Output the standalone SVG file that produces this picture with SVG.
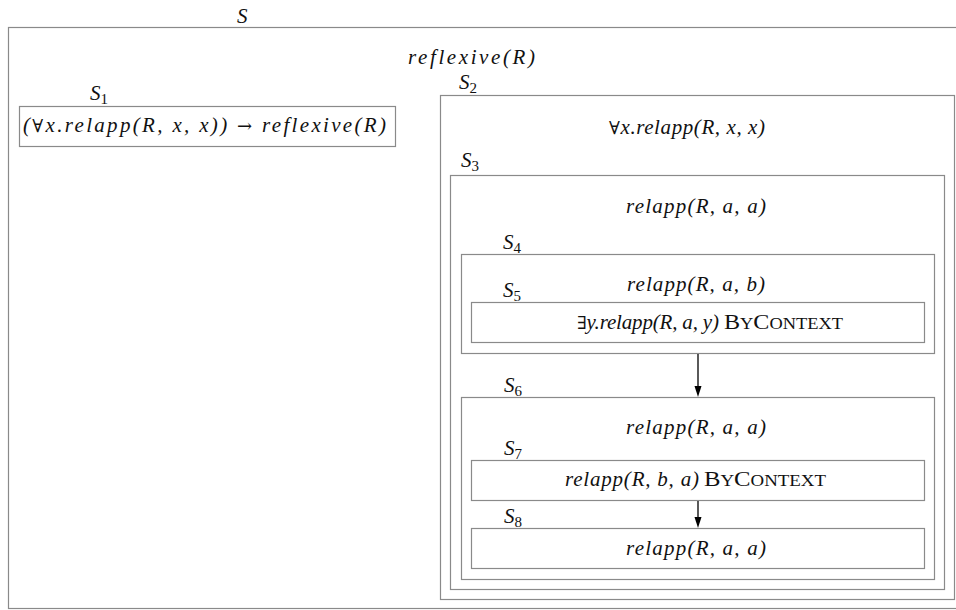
<svg xmlns="http://www.w3.org/2000/svg" width="956" height="610" viewBox="0 0 956 610">
  <defs>
    <style>
      .box { fill: none; stroke: #8a8a8a; stroke-width: 1.2; }
      .m { font-family: "Liberation Serif", "Times New Roman", serif; font-style: italic; font-size: 21px; fill: #111; }
      .lbl { font-family: "Liberation Serif", "Times New Roman", serif; font-style: italic; font-size: 21px; fill: #111; }
      .sub { font-style: normal; font-size: 15px; }
      .sym { font-family: "DejaVu Serif", serif; font-style: normal; font-size: 18px; }
      .rm { font-family: "Liberation Serif", "Times New Roman", serif; font-style: normal; font-size: 21px; fill: #111; }
      .sc { font-size: 16px; }
      .edge { stroke: #000; stroke-width: 1.3; fill: none; }
      .head { fill: #000; }
    </style>
  </defs>

  <rect width="956" height="610" fill="#fff"/>

  <!-- outer scope S -->
  <g id="S">
    <text class="lbl" x="237" y="23">S</text>
    <rect class="box" x="8.5" y="27.5" width="960" height="581"/>
    <text class="m" x="408" y="64" textLength="127" lengthAdjust="spacing">reflexive(R)</text>
  </g>

  <g id="S1">
    <text class="lbl" x="90" y="100">S<tspan class="sub" dy="4">1</tspan></text>
    <rect class="box" x="19.5" y="106.5" width="376" height="40"/>
    <text class="m" x="23" y="132" textLength="363" lengthAdjust="spacing">(<tspan class="sym">∀</tspan>x.relapp(R, x, x)) <tspan class="sym">→</tspan> reflexive(R)</text>
  </g>

  <g id="S2">
    <text class="lbl" x="459" y="89">S<tspan class="sub" dy="4">2</tspan></text>
    <rect class="box" x="440.5" y="95.5" width="514" height="504"/>
    <text class="m" x="609" y="134" textLength="156" lengthAdjust="spacing"><tspan class="sym">∀</tspan>x.relapp(R, x, x)</text>
  </g>

  <g id="S3">
    <text class="lbl" x="461" y="167">S<tspan class="sub" dy="4">3</tspan></text>
    <rect class="box" x="450.5" y="175.5" width="494" height="414"/>
    <text class="m" x="626" y="213" textLength="140" lengthAdjust="spacing">relapp(R, a, a)</text>
  </g>

  <g id="S4">
    <text class="lbl" x="503" y="249">S<tspan class="sub" dy="4">4</tspan></text>
    <rect class="box" x="461.5" y="254.5" width="473" height="99"/>
    <text class="m" x="627" y="291" textLength="138" lengthAdjust="spacing">relapp(R, a, b)</text>
  </g>

  <g id="S5">
    <text class="lbl" x="503" y="297">S<tspan class="sub" dy="4">5</tspan></text>
    <rect class="box" x="471.5" y="302.5" width="453" height="40"/>
    <text class="m" x="577" y="329" textLength="142" lengthAdjust="spacing"><tspan class="sym">∃</tspan>y.relapp(R, a, y)</text>
    <text class="rm" x="724" y="329" textLength="119" lengthAdjust="spacingAndGlyphs">B<tspan class="sc">Y</tspan>C<tspan class="sc">ONTEXT</tspan></text>
  </g>

  <g id="S6">
    <text class="lbl" x="504" y="392">S<tspan class="sub" dy="4">6</tspan></text>
    <rect class="box" x="461.5" y="397.5" width="473" height="182"/>
    <text class="m" x="626" y="434" textLength="140" lengthAdjust="spacing">relapp(R, a, a)</text>
  </g>

  <g id="S7">
    <text class="lbl" x="504" y="455">S<tspan class="sub" dy="4">7</tspan></text>
    <rect class="box" x="471.5" y="460.5" width="453" height="40"/>
    <text class="m" x="565" y="486" textLength="134" lengthAdjust="spacing">relapp(R, b, a)</text>
    <text class="rm" x="704" y="486" textLength="122" lengthAdjust="spacingAndGlyphs">B<tspan class="sc">Y</tspan>C<tspan class="sc">ONTEXT</tspan></text>
  </g>

  <g id="S8">
    <text class="lbl" x="504" y="523">S<tspan class="sub" dy="4">8</tspan></text>
    <rect class="box" x="471.5" y="528.5" width="453" height="40"/>
    <text class="m" x="626" y="555" textLength="140" lengthAdjust="spacing">relapp(R, a, a)</text>
  </g>

  <!-- sequence edges between sibling scopes -->
  <g id="edges">
    <line class="edge" x1="698" y1="354" x2="698" y2="387"/>
    <path class="head" d="M694.5,386 L701.5,386 L698,397 Z"/>
    <line class="edge" x1="698" y1="501" x2="698" y2="518"/>
    <path class="head" d="M694.5,517 L701.5,517 L698,528 Z"/>
  </g>
</svg>
